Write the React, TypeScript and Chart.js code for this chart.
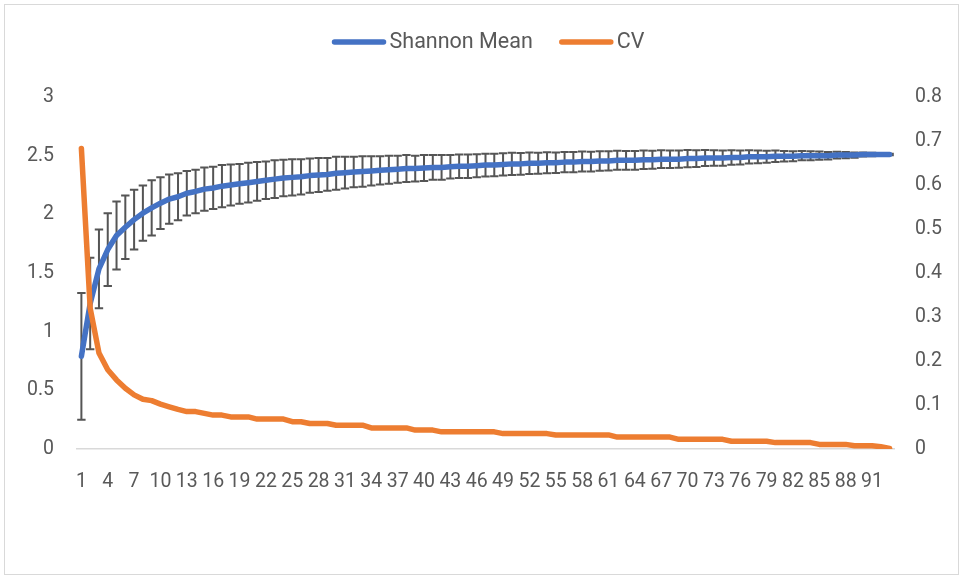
import React, { useEffect, useRef } from 'react';
import { Chart, registerables } from 'chart.js';

Chart.register(...registerables);

const categories: string[] = Array.from({ length: 93 }, (_, i) => String(i + 1));

const shannonMean: number[] = [
  0.79, 1.24, 1.535, 1.70, 1.82, 1.89, 1.955, 2.01, 2.055, 2.095,
  2.13, 2.15, 2.18, 2.195, 2.215, 2.225, 2.24, 2.25, 2.26, 2.27,
  2.28, 2.29, 2.30, 2.31, 2.315, 2.32, 2.33, 2.335, 2.34, 2.35,
  2.355, 2.36, 2.365, 2.37, 2.375, 2.38, 2.385, 2.39, 2.39, 2.395,
  2.40, 2.40, 2.405, 2.41, 2.41, 2.415, 2.42, 2.42, 2.425, 2.43,
  2.43, 2.435, 2.435, 2.44, 2.44, 2.445, 2.445, 2.45, 2.45, 2.455,
  2.455, 2.46, 2.46, 2.46, 2.465, 2.465, 2.47, 2.47, 2.47, 2.475,
  2.475, 2.48, 2.48, 2.48, 2.485, 2.485, 2.49, 2.49, 2.49, 2.495,
  2.495, 2.495, 2.50, 2.50, 2.50, 2.50, 2.505, 2.505, 2.505, 2.51,
  2.51, 2.51, 2.51,
];

const shannonSD: number[] = [
  0.54, 0.39, 0.335, 0.31, 0.29, 0.27, 0.255, 0.235, 0.235, 0.22,
  0.21, 0.20, 0.19, 0.185, 0.185, 0.18, 0.18, 0.175, 0.17, 0.17,
  0.165, 0.16, 0.16, 0.155, 0.155, 0.15, 0.145, 0.145, 0.14, 0.14,
  0.135, 0.13, 0.13, 0.125, 0.12, 0.12, 0.115, 0.115, 0.11, 0.11,
  0.105, 0.105, 0.10, 0.10, 0.10, 0.098, 0.097, 0.096, 0.095, 0.094,
  0.093, 0.092, 0.09, 0.089, 0.088, 0.087, 0.086, 0.085, 0.084, 0.083,
  0.082, 0.081, 0.08, 0.079, 0.078, 0.077, 0.076, 0.075, 0.074, 0.073,
  0.071, 0.069, 0.067, 0.065, 0.062, 0.06, 0.057, 0.054, 0.051, 0.048,
  0.045, 0.042, 0.04, 0.038, 0.035, 0.032, 0.029, 0.026, 0.022, 0.018,
  0.014, 0.01, 0.006,
];

const cvValues: number[] = [
  0.683, 0.32, 0.218, 0.18, 0.157, 0.138, 0.123, 0.113, 0.11, 0.102,
  0.096, 0.09, 0.085, 0.085, 0.081, 0.077, 0.077, 0.073, 0.073, 0.073,
  0.068, 0.068, 0.068, 0.068, 0.062, 0.062, 0.058, 0.058, 0.058, 0.054,
  0.054, 0.054, 0.054, 0.048, 0.048, 0.048, 0.048, 0.048, 0.043, 0.043,
  0.043, 0.039, 0.039, 0.039, 0.039, 0.039, 0.039, 0.039, 0.035, 0.035,
  0.035, 0.035, 0.035, 0.035, 0.032, 0.032, 0.032, 0.032, 0.032, 0.032,
  0.032, 0.027, 0.027, 0.027, 0.027, 0.027, 0.027, 0.027, 0.022, 0.022,
  0.022, 0.022, 0.022, 0.022, 0.0175, 0.0175, 0.0175, 0.0175, 0.0175, 0.0145,
  0.0145, 0.0145, 0.0145, 0.0145, 0.0105, 0.0105, 0.0105, 0.0105, 0.0076, 0.0076,
  0.0076, 0.005, 0.001,
];

const seriesNames = ['Shannon Mean', 'CV'];
const leftTickLabels = ['0', '0.5', '1', '1.5', '2', '2.5', '3'];
const rightTickLabels = ['0', '0.1', '0.2', '0.3', '0.4', '0.5', '0.6', '0.7', '0.8'];

const BLUE = '#4472C4';
const ORANGE = '#ED7D31';
const TEXT = '#595959';
const FONT = "Roboto, 'Liberation Sans', sans-serif";

const errorBarPlugin = {
  id: 'errorBars',
  beforeDatasetsDraw(chart: any) {
    const meta = chart.getDatasetMeta(0);
    const yScale = chart.scales.y;
    const ctx = chart.ctx;
    const cap = 4.2;
    ctx.save();
    ctx.strokeStyle = '#555555';
    ctx.lineWidth = 2;
    meta.data.forEach((pt: any, i: number) => {
      const x = pt.x;
      const top = yScale.getPixelForValue(shannonMean[i] + shannonSD[i]);
      const bot = yScale.getPixelForValue(shannonMean[i] - shannonSD[i]);
      ctx.beginPath();
      ctx.moveTo(x, top);
      ctx.lineTo(x, bot);
      ctx.moveTo(x - cap, top);
      ctx.lineTo(x + cap, top);
      ctx.moveTo(x - cap, bot);
      ctx.lineTo(x + cap, bot);
      ctx.stroke();
    });
    ctx.restore();
  },
};

const legendPlugin = {
  id: 'excelLegend',
  afterDraw(chart: any) {
    const ctx = chart.ctx;
    const ds = chart.data.datasets;
    const lineLen = 55;
    const gapText = 3;
    const gapItem = 26;
    const cy = 42;
    ctx.save();
    ctx.font = `21.5px ${FONT}`;
    ctx.textBaseline = 'middle';
    ctx.textAlign = 'left';
    const widths = ds.map((d: any) => ctx.measureText(d.label).width);
    const total = widths.reduce((a: number, w: number) => a + lineLen + gapText + w, 0) + gapItem * (ds.length - 1);
    let x = 488 - total / 2;
    ds.forEach((d: any, i: number) => {
      ctx.strokeStyle = d.borderColor;
      ctx.lineWidth = 5.5;
      ctx.lineCap = 'round';
      ctx.beginPath();
      ctx.moveTo(x + 3, cy);
      ctx.lineTo(x + lineLen - 3, cy);
      ctx.stroke();
      x += lineLen + gapText;
      ctx.fillStyle = TEXT;
      ctx.fillText(d.label, x, cy + 1);
      x += widths[i] + gapItem;
    });
    ctx.restore();
  },
};

export default function App() {
  const canvasRef = useRef<HTMLCanvasElement | null>(null);

  useEffect(() => {
    if (!canvasRef.current) return;
    const chart = new Chart(canvasRef.current, {
      type: 'line',
      data: {
        labels: categories,
        datasets: [
          {
            label: seriesNames[0],
            data: shannonMean,
            borderColor: BLUE,
            backgroundColor: BLUE,
            borderWidth: 5.5,
            pointRadius: 0,
            tension: 0,
            borderJoinStyle: 'round',
            borderCapStyle: 'round',
            yAxisID: 'y',
            order: 1,
          },
          {
            label: seriesNames[1],
            data: cvValues,
            borderColor: ORANGE,
            backgroundColor: ORANGE,
            borderWidth: 5.5,
            pointRadius: 0,
            tension: 0,
            borderJoinStyle: 'round',
            borderCapStyle: 'round',
            yAxisID: 'y1',
            order: 0,
          },
        ],
      },
      options: {
        responsive: false,
        animation: false,
        devicePixelRatio: 1,
        layout: { padding: { top: 97, left: 0, right: 0, bottom: 0 } },
        plugins: {
          legend: { display: false },
          tooltip: { enabled: false },
        },
        scales: {
          x: {
            type: 'category',
            offset: true,
            grid: { display: false, drawTicks: false },
            border: { display: true, color: '#D9D9D9', width: 1.5 },
            ticks: {
              autoSkip: false,
              maxRotation: 0,
              minRotation: 0,
              padding: 21,
              color: TEXT,
              font: { family: FONT, size: 19.5 },
              callback: (_v: any, i: number) => (i % 3 === 0 ? categories[i] : ''),
            },
            afterFit: (s: any) => {
              s.height = 129;
            },
          },
          y: {
            position: 'left',
            min: 0,
            max: 3,
            grid: { display: false, drawTicks: false },
            border: { display: false },
            ticks: {
              stepSize: 0.5,
              padding: 23,
              color: TEXT,
              font: { family: FONT, size: 19.5 },
              callback: (_v: any, i: number) => leftTickLabels[i],
            },
            afterFit: (s: any) => {
              s.width = 77;
            },
          },
          y1: {
            position: 'right',
            min: 0,
            max: 0.8,
            grid: { display: false, drawTicks: false },
            border: { display: false },
            ticks: {
              stepSize: 0.1,
              padding: 21,
              color: TEXT,
              font: { family: FONT, size: 19.5 },
              callback: (_v: any, i: number) => rightTickLabels[i],
            },
            afterFit: (s: any) => {
              s.width = 70;
            },
          },
        },
      },
      plugins: [errorBarPlugin, legendPlugin],
    });
    return () => chart.destroy();
  }, []);

  return (
    <div style={{ position: 'absolute', left: 0, top: 0, width: 964, height: 578, background: '#ffffff' }}>
      <div
        style={{
          position: 'absolute',
          left: 4,
          top: 4,
          width: 955,
          height: 571,
          border: '1px solid #D9D9D9',
          boxSizing: 'border-box',
        }}
      />
      <canvas
        ref={canvasRef}
        width={964}
        height={578}
        style={{ position: 'absolute', left: 0, top: 0, width: 964, height: 578 }}
      />
    </div>
  );
}
